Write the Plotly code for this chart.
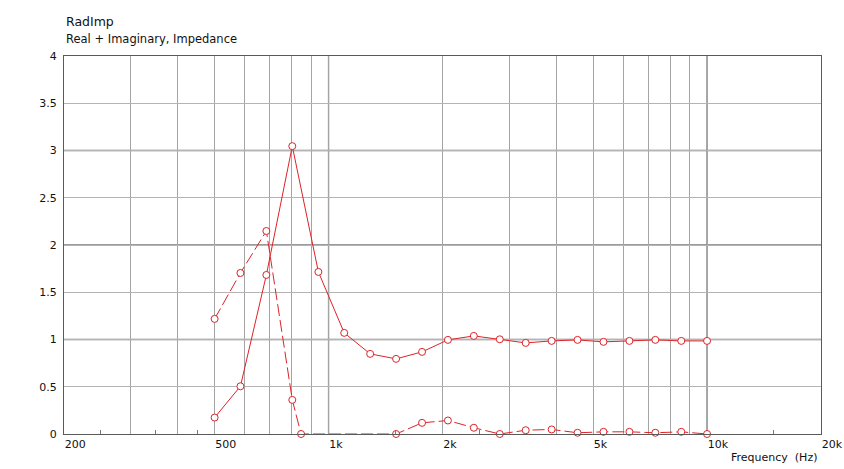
import plotly.graph_objects as go

# ---- data ----
freq_real = [500, 585, 685, 802, 940, 1100, 1288, 1508, 1766, 2067,
             2420, 2834, 3318, 3885, 4548, 5325, 6235, 7300, 8547, 10000]
real_part = [0.174, 0.505, 1.683, 3.046, 1.715, 1.070, 0.848, 0.795, 0.869, 0.996,
             1.038, 1.002, 0.964, 0.985, 0.996, 0.975, 0.985, 0.996, 0.985, 0.985]

freq_imag = [500, 585, 685, 802, 846, 1508, 1766, 2067,
             2420, 2834, 3318, 3885, 4548, 5325, 6235, 7300, 8547, 10000]
imag_part = [1.218, 1.704, 2.148, 0.361, 0.0, 0.0, 0.118, 0.143,
             0.066, 0.0, 0.040, 0.048, 0.013, 0.023, 0.023, 0.013, 0.023, 0.0]

x_tickvals = [200, 300, 400, 500, 600, 700, 800, 900, 1000,
              2000, 3000, 4000, 5000, 6000, 7000, 8000, 9000, 10000, 20000]
x_ticktext = ["200", "", "", "500", "", "", "", "", "1k",
              "2k", "", "", "5k", "", "", "", "", "10k", "20k"]
x_minor_ticks = [250, 350, 450, 1500, 2500, 15000]
x_major_grid = [1000, 10000]

y_tickvals = [0, 0.5, 1, 1.5, 2, 2.5, 3, 3.5, 4]
y_ticktext = ["0", "0.5", "1", "1.5", "2", "2.5", "3", "3.5", "4"]
y_major_grid = [1, 2, 3]

RED = "#dc2328"
FONT = "DejaVu Sans"

fig = go.Figure()
fig.add_trace(go.Scatter(
    x=freq_imag, y=imag_part, mode="lines+markers", name="Imaginary",
    line=dict(color=RED, width=1, dash="12px,4px"),
    marker=dict(symbol="circle", size=7, color="white",
                line=dict(color=RED, width=1)),
    cliponaxis=False,
))
fig.add_trace(go.Scatter(
    x=freq_real, y=real_part, mode="lines+markers", name="Real",
    line=dict(color=RED, width=1),
    marker=dict(symbol="circle", size=7, color="white",
                line=dict(color=RED, width=1)),
    cliponaxis=False,
))

shapes = []
for xv in x_major_grid:
    shapes.append(dict(type="line", xref="x", yref="paper", x0=xv, x1=xv, y0=0, y1=1,
                       line=dict(color="#6e6e6e", width=1.3), layer="below"))
for yv in y_major_grid:
    shapes.append(dict(type="line", xref="paper", yref="y", x0=0, x1=1, y0=yv, y1=yv,
                       line=dict(color="#7a7a7a", width=1.3), layer="below"))

fig.update_layout(
    width=844, height=469,
    margin=dict(l=64, r=23, t=56, b=35, autoexpand=False),
    paper_bgcolor="white", plot_bgcolor="white",
    showlegend=False,
    font=dict(family=FONT, size=11, color="#111111"),
    shapes=shapes,
    xaxis=dict(
        type="log", range=[2.30103, 4.30103], automargin=False,
        tickmode="array", tickvals=x_tickvals, ticktext=x_ticktext,
        ticks="", showgrid=True, gridcolor="#a4a4a4", gridwidth=1,
        zeroline=False, showline=True, linecolor="#5a5a5a", linewidth=1.3,
        mirror=True, ticklabelposition="outside right",
        tickfont=dict(family=FONT, size=11, color="#111111"),
        minor=dict(tickmode="array", tickvals=x_minor_ticks, ticks="inside",
                   ticklen=4, tickcolor="#777777", showgrid=False),
    ),
    yaxis=dict(
        range=[0, 4], automargin=False,
        tickmode="array", tickvals=y_tickvals, ticktext=y_ticktext,
        ticks="", showgrid=True, gridcolor="#b4b4b4", gridwidth=1,
        zeroline=False, showline=True, linecolor="#5a5a5a", linewidth=1.3,
        mirror=True, ticklabelstandoff=4,
        tickfont=dict(family=FONT, size=11, color="#111111"),
    ),
    annotations=[
        dict(text="RadImp", xref="paper", yref="paper", x=0, y=1, yshift=35,
             xanchor="left", yanchor="middle", showarrow=False,
             font=dict(family=FONT, size=12.5, color="#111111")),
        dict(text="Real + Imaginary, Impedance", xref="paper", yref="paper", x=0, y=1,
             yshift=17, xanchor="left", yanchor="middle", showarrow=False,
             font=dict(family=FONT, size=11.5, color="#111111")),
        dict(text="Frequency&nbsp;&nbsp;(Hz)", xref="paper", yref="paper", x=1, y=0,
             yshift=-23, xshift=-2, xanchor="right", yanchor="middle", showarrow=False,
             font=dict(family=FONT, size=11, color="#111111")),
    ],
)

# remove the browser's default 8px body margin so the figure fills the window exactly
fig.write_html(
    "out.html",
    config={"displayModeBar": False},
    post_script="document.body.style.margin='0';document.body.style.overflow='hidden';",
)
